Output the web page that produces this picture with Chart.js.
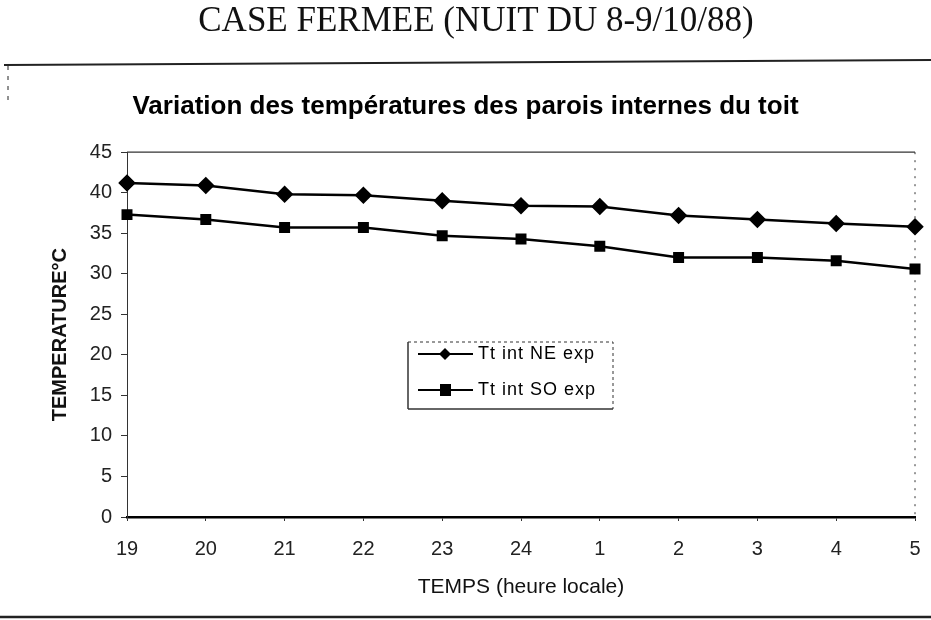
<!DOCTYPE html>
<html>
<head>
<meta charset="utf-8">
<script src="https://cdn.jsdelivr.net/npm/chart.js@4/dist/chart.umd.min.js"></script>
<style>
html,body{margin:0;padding:0;background:#fff;}
#wrap{position:relative;width:931px;height:620px;}
#pagetitle{position:absolute;left:0;top:0px;width:952px;line-height:40px;text-align:center;font-family:"Liberation Serif","DejaVu Serif",serif;font-size:35px;color:#111;}
canvas{position:absolute;left:0;top:0;}
</style>
</head>
<body>
<div id="wrap">
<canvas id="c" width="931" height="620"></canvas>
<div id="pagetitle">CASE FERMEE (NUIT DU 8-9/10/88)</div>
</div>
<script>
const pageTitle = "CASE FERMEE (NUIT DU 8-9/10/88)";
const chartTitle = "Variation des températures des parois internes du toit";
const hours = ["19","20","21","22","23","24","1","2","3","4","5"];
const seriesNames = ["Tt int NE exp","Tt int SO exp"];
const ttIntNE = [41.2, 40.9, 39.8, 39.7, 39.0, 38.4, 38.3, 37.2, 36.7, 36.2, 35.8];
const ttIntSO = [37.3, 36.7, 35.7, 35.7, 34.7, 34.3, 33.4, 32.0, 32.0, 31.6, 30.6];
const yTicks = [0,5,10,15,20,25,30,35,40,45];
const xTitle = "TEMPS (heure locale)";
const yTitle = "TEMPERATURE°C";
const FONT = '"Liberation Sans", Arial, sans-serif';

const decor = {
  id:'decor',
  beforeDraw(chart){
    const c = chart.ctx, a = chart.chartArea;
    c.save();
    c.strokeStyle = '#222';
    c.lineWidth = 2;
    c.beginPath(); c.moveTo(4,65); c.lineTo(931,60); c.stroke();
    c.lineWidth = 2.5;
    c.beginPath(); c.moveTo(0,617); c.lineTo(931,617); c.stroke();
    c.lineWidth = 1;
    c.setLineDash([4,6]);
    c.beginPath(); c.moveTo(8,66); c.lineTo(8,100); c.stroke();
    c.setLineDash([]);
    c.lineWidth = 1.2;
    c.strokeStyle = '#333';
    c.beginPath(); c.moveTo(a.left,a.top); c.lineTo(a.right,a.top); c.stroke();
    c.setLineDash([2,6]);
    c.lineWidth = 1;
    c.beginPath(); c.moveTo(a.right,a.top); c.lineTo(a.right,a.bottom); c.stroke();
    c.restore();
  },
  afterDraw(chart){
    const c = chart.ctx;
    const bx = 408, by = 342, bw = 205, bh = 67;
    c.save();
    c.fillStyle = '#fff';
    c.fillRect(bx,by,bw,bh);
    c.strokeStyle = '#333';
    c.lineWidth = 1;
    c.setLineDash([3,3]);
    c.beginPath(); c.moveTo(bx,by); c.lineTo(bx+bw,by); c.lineTo(bx+bw,by+bh); c.stroke();
    c.setLineDash([]);
    c.lineWidth = 1.5;
    c.beginPath(); c.moveTo(bx,by+bh); c.lineTo(bx+bw,by+bh); c.stroke();
    c.beginPath(); c.moveTo(bx,by); c.lineTo(bx,by+bh); c.stroke();
    chart.data.datasets.forEach((ds,i)=>{
      const y = by + 12 + i*36;
      c.strokeStyle = '#000'; c.lineWidth = 2;
      c.beginPath(); c.moveTo(418,y); c.lineTo(473,y); c.stroke();
      c.fillStyle = '#000';
      if (ds.pointStyle === 'rectRot'){
        c.beginPath(); c.moveTo(445,y-6); c.lineTo(451,y); c.lineTo(445,y+6); c.lineTo(439,y); c.closePath(); c.fill();
      } else {
        c.fillRect(440,y-6,11,12);
      }
      c.font = '18px ' + FONT;
      if ('letterSpacing' in c) c.letterSpacing = '1px';
      c.textBaseline = 'middle';
      c.fillText(ds.label, 478, y);
      if ('letterSpacing' in c) c.letterSpacing = '0px';
    });
    c.restore();
  }
};

new Chart(document.getElementById('c'), {
  type:'line',
  data:{
    labels: hours,
    datasets:[
      {label: seriesNames[0], data: ttIntNE, borderColor:'#000', backgroundColor:'#000', borderWidth:2.5,
       pointStyle:'rectRot', pointRadius:7, pointHoverRadius:7, tension:0},
      {label: seriesNames[1], data: ttIntSO, borderColor:'#000', backgroundColor:'#000', borderWidth:2.5,
       pointStyle:'rect', pointRadius:6, pointHoverRadius:6, tension:0}
    ]
  },
  options:{
    responsive:false,
    animation:false,
    layout:{padding:{left:0,right:0,top:0,bottom:22}},
    plugins:{
      legend:{display:false},
      tooltip:{enabled:false},
      title:{display:true, text: chartTitle, color:'#000',
        font:{family:FONT, size:26, weight:'bold'},
        padding:{top:91, bottom:30}}
    },
    scales:{
      x:{
        offset:false,
        grid:{display:true, drawOnChartArea:false, drawTicks:true, tickLength:4, color:'#333'},
        border:{display:true, color:'#000', width:2.5},
        ticks:{color:'#222', padding:16, font:{family:FONT, size:20}, maxRotation:0},
        title:{display:true, text:xTitle, color:'#111', padding:{top:0,bottom:0},
          font:{family:FONT, size:21, lineHeight:1}},
        afterFit(s){ s.paddingRight = 16; }
      },
      y:{
        min:0, max:45,
        afterBuildTicks(s){ s.ticks = yTicks.map(v=>({value:v})); },
        grid:{display:true, drawOnChartArea:false, drawTicks:true, tickLength:6, color:'#333'},
        border:{display:true, color:'#333', width:1, dash:[6,4]},
        ticks:{color:'#222', padding:9, font:{family:FONT, size:20}},
        title:{display:true, text:yTitle, color:'#111', padding:{top:48,bottom:0},
          font:{family:FONT, size:20, weight:'bold'}},
        afterFit(s){ s.width = 127; }
      }
    }
  },
  plugins:[decor]
});
</script>
</body>
</html>
